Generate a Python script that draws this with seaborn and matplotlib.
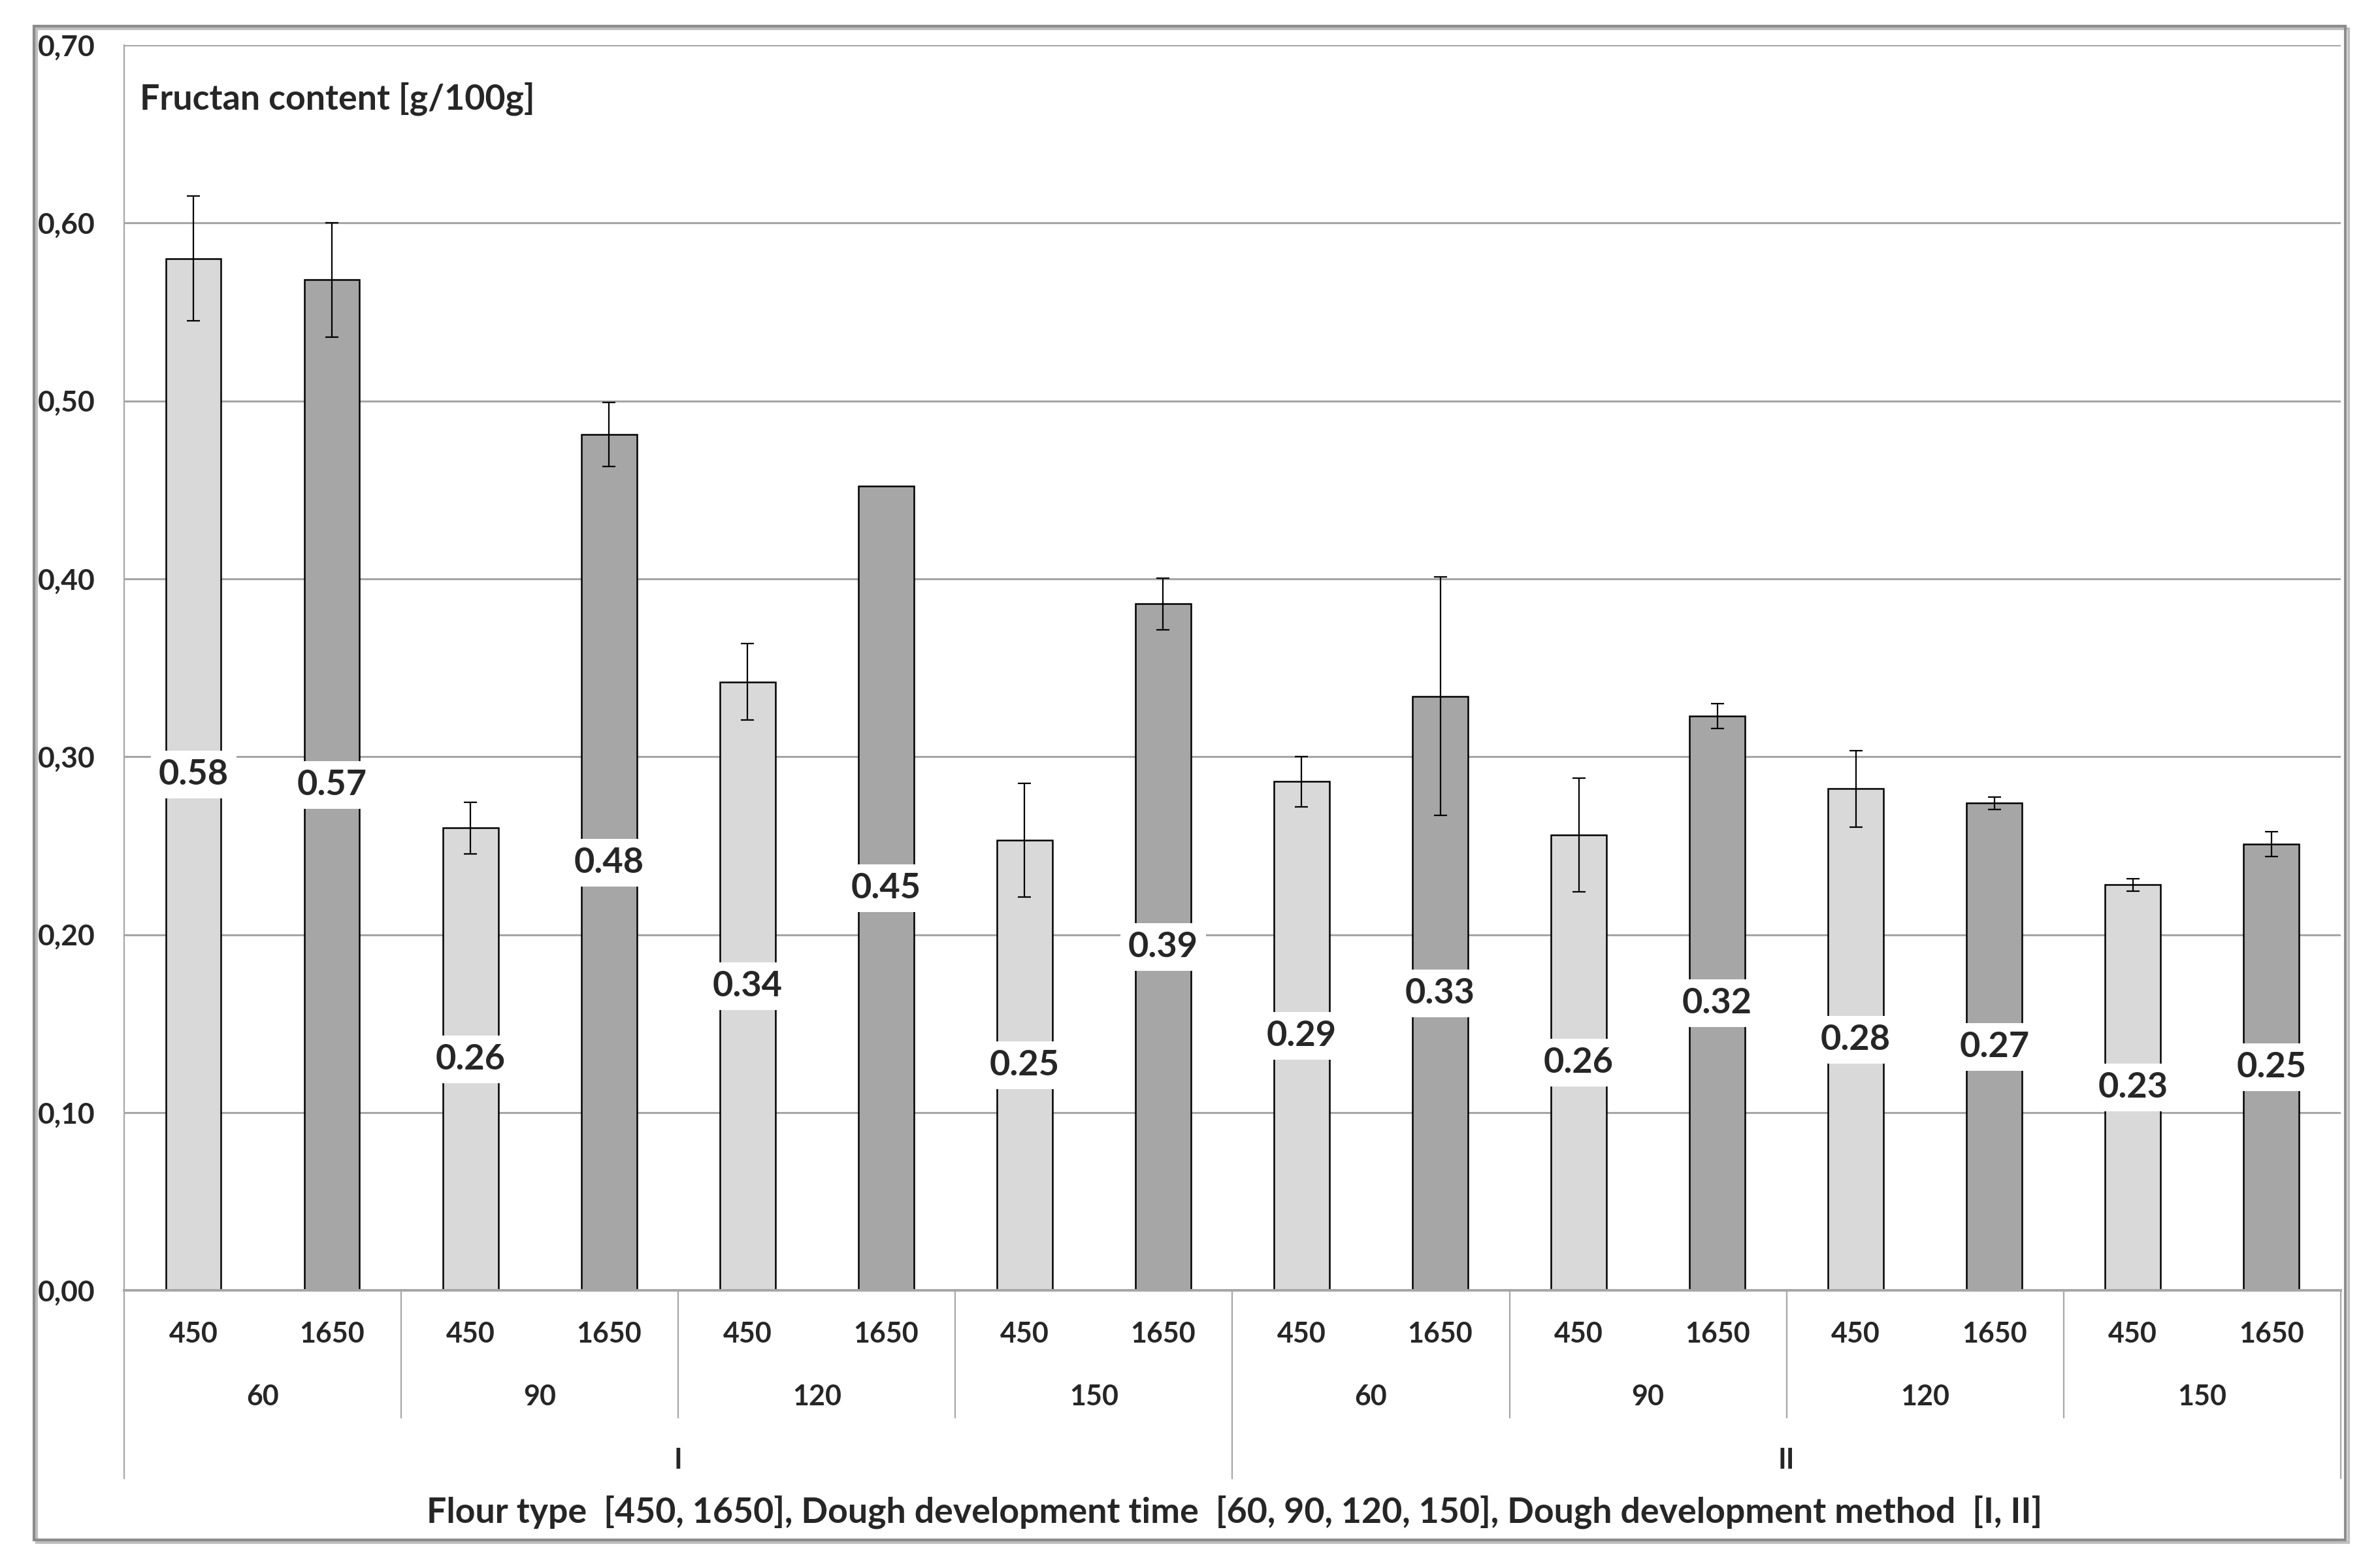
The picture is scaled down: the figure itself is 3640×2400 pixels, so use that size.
import numpy as np
import pandas as pd
import matplotlib
matplotlib.use('Agg')
import matplotlib.pyplot as plt
import seaborn as sns
from matplotlib.patches import Rectangle
from matplotlib import transforms

# ---------------- data ----------------
methods = ['I', 'II']
times = ['60', '90', '120', '150']
flours = ['450', '1650']

values_450 = [0.580, 0.260, 0.342, 0.253, 0.286, 0.256, 0.282, 0.228]
values_1650 = [0.568, 0.481, 0.452, 0.386, 0.334, 0.323, 0.274, 0.251]
err_450 = [0.035, 0.0145, 0.0215, 0.032, 0.014, 0.032, 0.0215, 0.0035]
err_1650 = [0.032, 0.018, 0.0, 0.0145, 0.067, 0.007, 0.0035, 0.007]

y_ticks = [0.0, 0.1, 0.2, 0.3, 0.4, 0.5, 0.6, 0.7]
y_tick_labels = ['0,00', '0,10', '0,20', '0,30', '0,40', '0,50', '0,60', '0,70']

title_text = 'Fructan content [g/100g]'
x_title = ('Flour type  [450, 1650], Dough development time  [60, 90, 120, 150], '
           'Dough development method  [I, II]')

# ---------------- table ----------------
rows = []
g = 0
for m in methods:
    for t in times:
        for f, vals, errs in ((flours[0], values_450, err_450), (flours[1], values_1650, err_1650)):
            rows.append(dict(method=m, time=t, flour=f, value=vals[g], err=errs[g],
                             slot=f'{m}|{t}|{f}'))
        g += 1
df = pd.DataFrame(rows)
slots = list(df['slot'])

# ---------------- style ----------------
sns.set_style('white')
plt.rcParams['font.family'] = ['Lato', 'DejaVu Sans']
plt.rcParams['font.weight'] = 'bold'
plt.rcParams['axes.labelweight'] = 'bold'

fig = plt.figure(figsize=(18.2, 12), dpi=200)
ax = fig.add_axes([0.0522, 0.177, 0.9843 - 0.0522, 0.97125 - 0.177])

palette = {'450': '#D9D9D9', '1650': '#A6A6A6'}
sns.barplot(data=df, x='slot', y='value', hue='flour', order=slots, hue_order=flours,
            palette=palette, dodge=False, width=0.4, edgecolor='black', linewidth=0.9,
            errorbar=None, legend=False, ax=ax, zorder=2)

pos = np.arange(len(slots))
mask = df['err'].values > 0
ax.errorbar(pos[mask], df['value'].values[mask], yerr=df['err'].values[mask], fmt='none',
            ecolor='black', elinewidth=0.8, capsize=3.6, capthick=0.8, zorder=4)

for x, v in zip(pos, df['value'].values):
    ax.text(x, v / 2, f'{v:.2f}', ha='center', va='center', fontsize=19.5, fontweight='bold',
            bbox=dict(boxstyle='square,pad=0.22', fc='white', ec='none'), zorder=5)

ax.set_xlim(-0.5, len(slots) - 0.5)
ax.set_ylim(0, 0.7)
ax.set_yticks(y_ticks)
ax.set_yticklabels(y_tick_labels)
ax.yaxis.grid(True, color='#A6A6A6', lw=1.1)
ax.set_axisbelow(True)
ax.tick_params(axis='y', length=6, color='#A6A6A6', width=1.0, pad=10, labelsize=16)
ax.set_xticks(pos)
ax.set_xticklabels(list(df['flour']), fontsize=15.5, fontweight='bold')
ax.tick_params(axis='x', length=0, pad=17)
ax.set_xlabel('')
ax.set_ylabel('')
for s in ['top', 'right']:
    ax.spines[s].set_visible(False)
ax.spines['left'].set_color('#A6A6A6')
ax.spines['left'].set_linewidth(0.8)
ax.spines['bottom'].set_color('#A6A6A6')
ax.spines['bottom'].set_linewidth(1.4)

trans = transforms.blended_transform_factory(ax.transData, ax.transAxes)
# time labels
for gi in range(len(methods) * len(times)):
    ax.text(2 * gi + 0.5, -0.0855, times[gi % len(times)], transform=trans, ha='center',
            va='center', fontsize=15.5, fontweight='bold')
# method labels
for mi, m in enumerate(methods):
    ax.text(mi * 8 + 3.5, -0.1365, m, transform=trans, ha='center', va='center',
            fontsize=15.5, fontweight='bold')
# separators
for gi in range(1, 8):
    if gi == 4:
        continue
    xs = 2 * gi - 0.5
    ax.plot([xs, xs], [0, -0.1023], transform=trans, color='#A6A6A6', lw=0.8, clip_on=False)
for xs in [-0.5, 7.5, 15.5]:
    ax.plot([xs, xs], [0, -0.151], transform=trans, color='#A6A6A6', lw=0.8, clip_on=False)

ax.text(0.007, 0.957, title_text, transform=ax.transAxes, ha='left', va='center',
        fontsize=19.3, fontweight='bold')
fig.text(0.519, 0.0358, x_title, ha='center', va='center', fontsize=19.3, fontweight='bold')

# outer frame with shadow
fig.patches.append(Rectangle((0.0143 + 0.0012, 0.0179 - 0.0018), 0.972, 0.9654,
                             transform=fig.transFigure, fill=False, ec='#BFBFBF', lw=1.5,
                             zorder=0))
fig.patches.append(Rectangle((0.0143, 0.0179), 0.972, 0.9654, transform=fig.transFigure,
                             fill=False, ec='#8C8C8C', lw=1.5, zorder=1))

fig.savefig('out.png', dpi=200, facecolor='white')
